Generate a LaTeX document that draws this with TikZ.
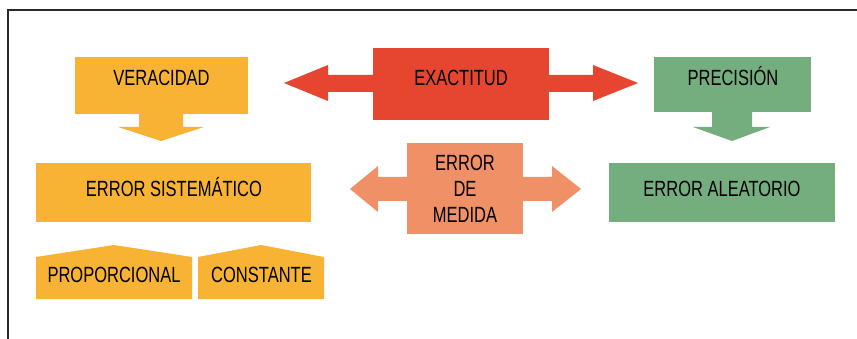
\documentclass[tikz,border=0pt]{standalone}
\usepackage{fontspec}
\setmainfont{Liberation Sans}[FakeStretch=0.75]
\definecolor{cyel}{HTML}{F8B334}
\definecolor{cred}{HTML}{E64530}
\definecolor{cgrn}{HTML}{74AD7E}
\definecolor{csal}{HTML}{F09066}
\definecolor{cframe}{HTML}{2A2A2A}
\begin{document}
\begin{tikzpicture}[x=1pt,y=-1pt,
  lbl/.style={inner sep=0pt, outer sep=0pt, text height=15.8pt, text depth=0pt, font=\fontsize{22}{26}\selectfont, text=black},
  mlbl/.style={inner sep=0pt, outer sep=0pt, align=center, font=\fontsize{22}{26}\selectfont, text=black},
  blk/.style={draw=none, inner sep=0pt, outer sep=0pt, minimum width=#1},
  frameline/.style={draw=cframe, line width=1.3pt}]
\useasboundingbox (0,0) rectangle (857,339);
% frame
\coordinate (fTL) at (8,10);
\coordinate (fTR) at (857,10);
\coordinate (fBL) at (8,339);
\draw[frameline] (fTR) -- (fTL) -- (fBL);

% boxes
\node[blk=173pt, fill=cyel, minimum height=57pt] (ver) at (161.5,85.5) {};
\node[blk=176pt, fill=cred, minimum height=72pt] (exa) at (461,84) {};
\node[blk=157pt, fill=cgrn, minimum height=55pt] (pre) at (732.5,84.5) {};
\node[blk=275pt, fill=cyel, minimum height=59pt] (sis) at (173.5,192.5) {};
\node[blk=226pt, fill=cgrn, minimum height=59pt] (ale) at (722,192.5) {};
\node[blk=116pt, fill=csal, minimum height=91pt] (med) at (465,188.5) {};

% block arrows
\fill[cred] (373,75) -- (328,75) -- (328,65) -- (284,83) -- (328,101) -- (328,92) -- (373,92) -- cycle;
\fill[cred] (549,75) -- (593,75) -- (593,65) -- (638,83) -- (593,101) -- (593,92) -- (549,92) -- cycle;
\fill[cyel] (139,113) -- (139,127) -- (118,127) -- (161,141) -- (204,127) -- (183,127) -- (183,113) -- cycle;
\fill[cgrn] (712,111) -- (712,127) -- (693,127) -- (732,141) -- (770,127) -- (752,127) -- (752,111) -- cycle;
\fill[csal] (407.5,177) -- (378,177) -- (378,166) -- (350,189) -- (378,212) -- (378,201) -- (407.5,201) -- cycle;
\fill[csal] (522.5,177) -- (552,177) -- (552,166) -- (581,189) -- (552,212) -- (552,201) -- (522.5,201) -- cycle;

% pentagons
\fill[cyel] (36,299) -- (36,257) -- (114,245) -- (192,257) -- (192,299) -- cycle;
\fill[cyel] (198,299) -- (198,257) -- (261,245) -- (324,257) -- (324,299) -- cycle;

% labels
\node[lbl] (verT) at (161.5,78) {VERACIDAD};
\node[lbl] (exaT) at (461,78) {EXACTITUD};
\node[lbl] (preT) at (733,78) {PRECISIÓN};
\node[lbl] (sisT) at (174,189) {ERROR SISTEMÁTICO};
\node[lbl] (aleT) at (722,189) {ERROR ALEATORIO};
\node[mlbl] (medT) at (465,189) {ERROR\\DE\\MEDIDA};
\node[lbl] (proT) at (114,275) {PROPORCIONAL};
\node[lbl] (conT) at (261.5,275) {CONSTANTE};
\end{tikzpicture}
\end{document}
